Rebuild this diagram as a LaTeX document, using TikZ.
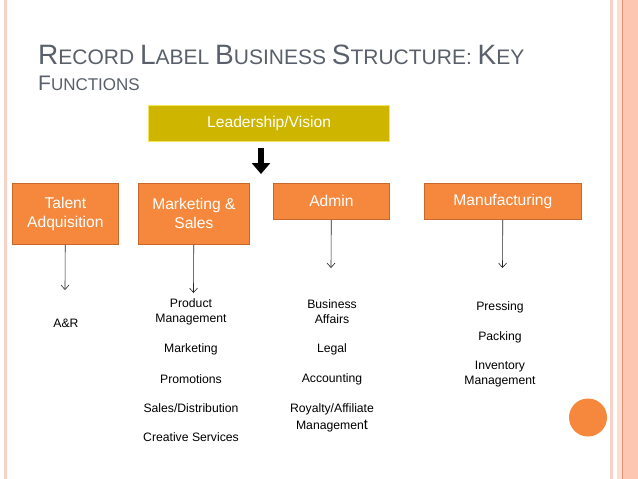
\documentclass[tikz,border=0pt]{standalone}
\usepackage{fontspec}
\setmainfont{Liberation Sans}
\usetikzlibrary{arrows.meta}
\definecolor{cBox}{HTML}{F5883C}
\definecolor{cBoxLine}{HTML}{C7672C}
\definecolor{cLead}{HTML}{CDB500}
\definecolor{cLeadLine}{HTML}{F3E55A}
\definecolor{cTitle}{HTML}{59606B}
\definecolor{cEdge}{HTML}{FCC7B1}
\definecolor{cEdgeDark}{HTML}{E59470}
\definecolor{cEdgeLight}{HTML}{F6D3C6}

\newcommand\capletter[1]{{\fontsize{28}{30}\selectfont #1}}

\begin{document}
\begin{tikzpicture}[
    x=1pt, y=-1pt,
    box/.style={draw=cBoxLine, line width=0.8pt, fill=cBox, text=white,
                font=\fontsize{15.6}{19}\selectfont, align=center,
                inner sep=0pt, anchor=north west},
    lead/.style={draw=cLeadLine, line width=1.2pt, fill=cLead, text=white,
                 font=\fontsize{15.6}{19}\selectfont, inner sep=0pt,
                 anchor=north west},
    conn/.style={-{Straight Barb[length=4.5pt, width=8pt]}, line width=0.6pt,
                 black!85},
    item/.style={font=\fontsize{12.2}{14.8}\selectfont, align=center,
                 inner sep=0pt},
    ttl/.style={text=cTitle, anchor=base west, inner sep=0pt,
                font=\fontsize{21}{30}\selectfont},
]

% ===========================================================================
% fondo y bordes de la diapositiva
% ===========================================================================
\useasboundingbox[fill=white] (0,0) rectangle (638,479);
\fill[cEdgeLight] (4,0) rectangle (7,479);
\fill[cEdgeLight] (610,0) rectangle (613,479);
\fill[cEdge!55] (617,0) rectangle (622,479);
\fill[cEdge] (622,0) rectangle (638,479);
\draw[cEdgeDark, line width=1.1pt] (622.5,0) -- (622.5,479);
\fill[cBox] (588,417.5) circle (19);

% ----- titulo -----
\node[ttl] (title) at (38,64)
      {\capletter{R}ECORD \capletter{L}ABEL \capletter{B}USINESS
       \capletter{S}TRUCTURE: \capletter{K}EY};
\node[ttl, font=\fontsize{17}{24}\selectfont] (title2) at (38,90)
      {{\fontsize{21}{24}\selectfont F}UNCTIONS};

% ===========================================================================
% cajas principales
% ===========================================================================
\node[lead, minimum width=241pt, minimum height=36pt] (lead) at (148,105)
      {Leadership/Vision};

% flecha gruesa bajo la direccion
\coordinate (vTop) at (261,148);
\coordinate (vTip) at (261,174);
\draw[black, line width=6pt, -{Triangle[length=11pt, width=18pt]}]
      (vTop) -- (vTip);

\node[box, minimum width=106pt, minimum height=61pt] (talent) at (12,183)
      {Talent\\Adquisition};
\node[box, minimum width=111pt, minimum height=61pt] (mkt) at (138,183)
      {Marketing \&\\Sales};
\node[box, minimum width=116pt, minimum height=36pt] (admin) at (273,183)
      {Admin};
\node[box, minimum width=157pt, minimum height=36pt] (manuf) at (424,183)
      {Manufacturing};

% ----- flechas hacia las funciones -----
\coordinate (eTalent) at (65,290);
\coordinate (eMkt) at (193.5,293);
\coordinate (eAdmin) at (331,268);
\coordinate (eManuf) at (502.5,268);
\draw[conn] (talent) -- (eTalent);
\draw[conn] (mkt) -- (eMkt);
\draw[conn] (admin) -- (eAdmin);
\draw[conn] (manuf) -- (eManuf);

% ===========================================================================
% funciones de cada area
% ===========================================================================
\node[item] (ar) at (66,323) {A\&R};

\node[item] (prod) at (191,311.5) {Product\\Management};
\foreach \y/\t/\n in {349/Marketing/mk, 379/Promotions/pr,
                      408/Sales\slash Distribution/sd, 437/Creative Services/cs}
    \node[item] (\n) at (191,\y) {\t};

\node[item] (bus) at (332,312) {Business\\Affairs};
\foreach \y/\t/\n in {349/Legal/lg, 379/Accounting/ac}
    \node[item] (\n) at (332,\y) {\t};
\node[item] (roy) at (332,417.5)
      {Royalty/Affiliate\\[2pt]Managemen{\fontsize{14.5}{14.8}\selectfont t}};

\foreach \y/\t/\n in {307/Pressing/ps, 337/Packing/pk}
    \node[item] (\n) at (500,\y) {\t};
\node[item] (inv) at (500,374) {Inventory\\Management};

\end{tikzpicture}
\end{document}
